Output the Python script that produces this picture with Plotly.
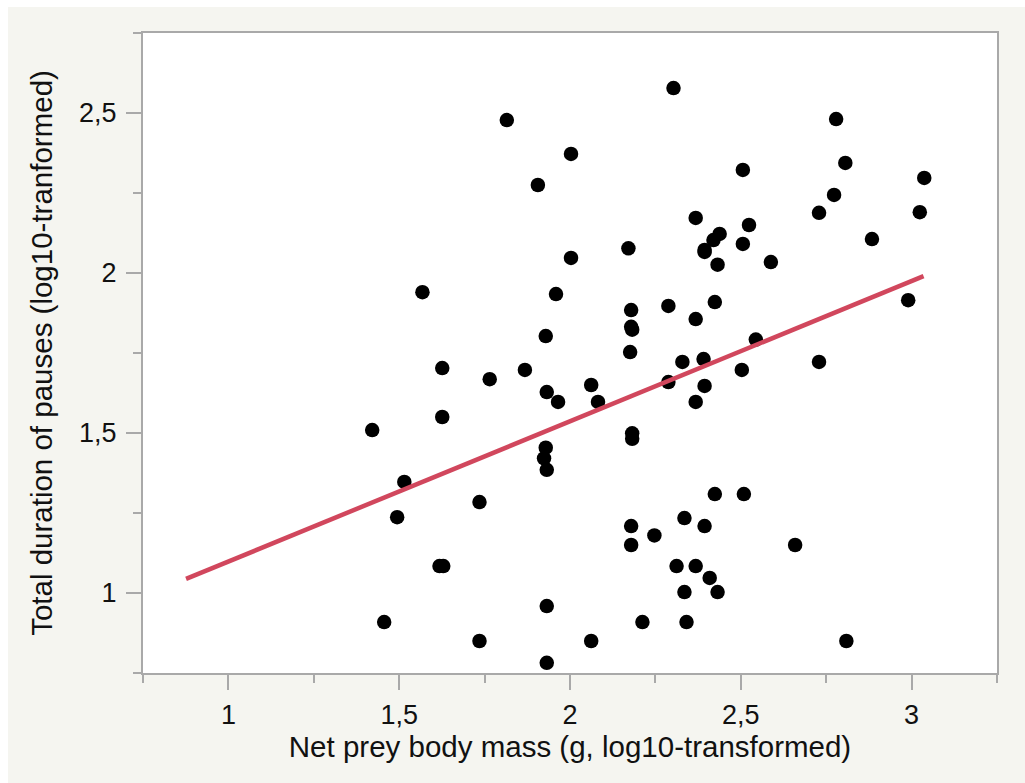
import plotly.graph_objects as go

# Data
prey_mass_log10 = [
    1.421, 1.515, 1.494, 1.456, 1.568, 1.626, 1.626, 1.618, 1.629, 1.735,
    1.735, 1.765, 1.815, 1.868, 1.906, 1.929, 1.932, 1.929, 1.924, 1.932,
    1.932, 1.932, 1.959, 1.965, 2.003, 2.003, 2.062, 2.082, 2.062, 2.171,
    2.179, 2.179, 2.182, 2.176, 2.182, 2.182, 2.179, 2.179, 2.247, 2.212,
    2.303, 2.288, 2.288, 2.312, 2.329, 2.335, 2.335, 2.341, 2.368, 2.368,
    2.368, 2.368, 2.394, 2.394, 2.391, 2.394, 2.394, 2.409, 2.420, 2.438,
    2.424, 2.424, 2.432, 2.432, 2.506, 2.506, 2.524, 2.503, 2.509, 2.544,
    2.588, 2.659, 2.729, 2.729, 2.779, 2.773, 2.806, 2.809, 2.884, 2.990,
    3.024, 3.037,
]
pause_duration_log10 = [
    1.509, 1.347, 1.237, 0.909, 1.940, 1.703, 1.550, 1.084, 1.084, 1.284,
    0.850, 1.668, 2.478, 1.697, 2.275, 1.803, 1.628, 1.454, 1.421, 1.385,
    0.959, 0.782, 1.934, 1.597, 2.372, 2.047, 1.650, 1.597, 0.850, 2.077,
    1.884, 1.832, 1.823, 1.753, 1.499, 1.482, 1.209, 1.150, 1.180, 0.909,
    2.578, 1.897, 1.659, 1.084, 1.722, 1.234, 1.003, 0.909, 2.172, 1.856,
    1.597, 1.084, 2.072, 2.066, 1.731, 1.647, 1.209, 1.047, 2.103, 2.122,
    1.909, 1.309, 2.026, 1.003, 2.322, 2.091, 2.150, 1.697, 1.309, 1.792,
    2.034, 1.150, 2.188, 1.722, 2.481, 2.244, 2.344, 0.850, 2.106, 1.915,
    2.190, 2.297,
]

# Fitted regression line endpoints
fit_x = [0.876, 3.035]
fit_y = [1.044, 1.990]

x_tickvals = [1, 1.5, 2, 2.5, 3]
x_ticktext = ["1", "1,5", "2", "2,5", "3"]
y_tickvals = [1, 1.5, 2, 2.5]
y_ticktext = ["1", "1,5", "2", "2,5"]

BEIGE = "#f5f5f0"
GRAY = "#a9a9a9"
FONT = "Liberation Sans, Arial, Helvetica, sans-serif"
TICK_SIZE = 27
TITLE_SIZE = 29.5

fig = go.Figure()
fig.add_trace(go.Scatter(
    x=prey_mass_log10, y=pause_duration_log10, mode="markers",
    marker=dict(color="black", size=14.5, line=dict(width=0)),
    showlegend=False, hoverinfo="x+y",
))
fig.add_trace(go.Scatter(
    x=fit_x, y=fit_y, mode="lines",
    line=dict(color="#d1475d", width=4.5),
    showlegend=False,
))

L, R, T, B = 143, 28, 33, 110
W, H = 1025, 783
pw, ph = W - L - R, H - T - B

def px_x(p):
    return (p - L) / pw

def px_y(p):
    return (H - B - p) / ph

# white strips at the left and top edges of the image
fig.add_shape(type="rect", xref="paper", yref="paper", layer="below",
              x0=px_x(-5), x1=px_x(8), y0=px_y(H + 5), y1=px_y(-5),
              fillcolor="white", line=dict(width=0))
fig.add_shape(type="rect", xref="paper", yref="paper", layer="below",
              x0=px_x(-5), x1=px_x(W + 5), y0=px_y(7), y1=px_y(-5),
              fillcolor="white", line=dict(width=0))

axis_common = dict(
    showgrid=False, zeroline=False,
    showline=True, linecolor=GRAY, linewidth=2, mirror=True,
    ticks="outside", ticklen=15, tickwidth=2, tickcolor=GRAY,
    tickfont=dict(family=FONT, size=TICK_SIZE, color="#111111"),
    minor=dict(ticks="outside", dtick=0.25, ticklen=8, tickwidth=2, tickcolor=GRAY),
)

fig.update_layout(
    width=W, height=H,
    margin=dict(l=L, r=R, t=T, b=B, autoexpand=False),
    paper_bgcolor=BEIGE, plot_bgcolor="white",
    separators=",.",
    font=dict(family=FONT, size=TICK_SIZE, color="#111111"),
    xaxis=dict(
        range=[0.75, 3.25], tickvals=x_tickvals, ticktext=x_ticktext,
        title=dict(text="Net prey body mass (g, log10-transformed)",
                   font=dict(family=FONT, size=TITLE_SIZE, color="#111111"), standoff=3),
        ticklabelstandoff=2,
        **axis_common,
    ),
    yaxis=dict(
        range=[0.75, 2.75], tickvals=y_tickvals, ticktext=y_ticktext,
        title=dict(text="Total duration of pauses (log10-tranformed)",
                   font=dict(family=FONT, size=TITLE_SIZE, color="#111111"), standoff=18),
        ticklabelstandoff=4,
        **axis_common,
    ),
)
fig.update_xaxes(minor_tick0=0.75)
fig.update_yaxes(minor_tick0=0.75)

fig.write_html("out.html")
